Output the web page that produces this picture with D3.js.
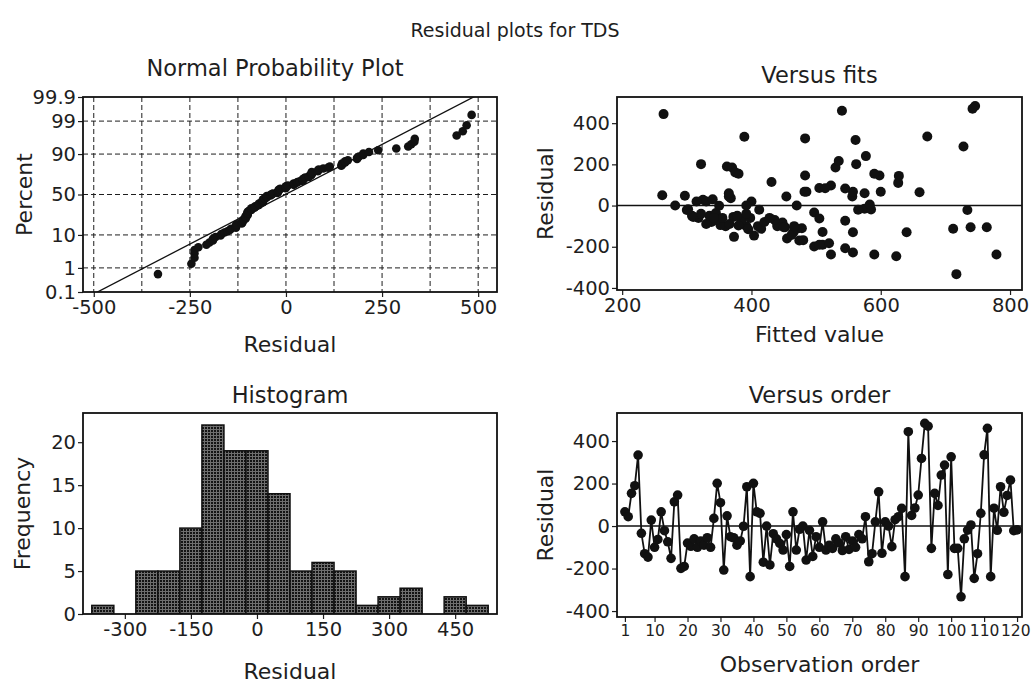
<!DOCTYPE html>
<html>
<head>
<meta charset="utf-8">
<script src="https://cdn.jsdelivr.net/npm/d3@7"></script>
<style>
  body { margin: 0; background: #fff; }
  svg { font-family: "DejaVu Sans", sans-serif; }
</style>
</head>
<body>
<svg id="chart" width="1031" height="684"></svg>
<script>
// residuals, in observation order (1..120)
const residuals = [
  67, 44, 154, 190, 334, -34, -130, -146, 28, -100,
  -63, 67, -22, -74, -152, 114, 146, -199, -190, -80,
  -95, -60, -100, -70, -90, -55, -100, 36, 201, 110,
  -207, 48, -50, -55, -90, -70, -1, 185, -238, 201,
  67, 60, -170, 0, -183, -36, -60, -82, -113, -40,
  -190, 67, -113, -15, 0, -160, -20, -143, -50, -100,
  20, -113, -90, -105, -60, -80, -115, -50, -110, -70,
  -100, -40, -60, 44, -168, -130, 20, 161, -128, 20,
  0, -97, 30, 44, 83, -238, 444, 50, 85, 146,
  318, 483, 470, -105, 154, 97, 240, 287, -228, 326,
  -105, -105, -333, -60, -19, 5, -246, -130, 60, 335,
  460, -238, 84, -20, 185, 65, 144, 216, -22, -18
];
// fitted values, same order
const fitted = [
  485, 556, 380, 362, 389, 497, 465, 404, 325, 360,
  505, 482, 300, 545, 373, 431, 483, 497, 510, 338,
  352, 318, 392, 345, 330, 310, 410, 368, 322, 627,
  545, 297, 335, 372, 440, 385, 350, 370, 523, 562,
  557, 575, 474, 282, 520, 345, 398, 448, 712, 322,
  505, 600, 415, 575, 470, 455, 565, 462, 378, 440,
  400, 470, 366, 452, 355, 420, 395, 308, 478, 436,
  466, 392, 342, 454, 480, 640, 330, 375, 510, 315,
  392, 380, 340, 365, 545, 779, 264, 262, 505, 598,
  561, 746, 742, 450, 590, 523, 577, 728, 557, 483,
  764, 739, 717, 428, 585, 583, 624, 557, 365, 672,
  540, 590, 514, 412, 530, 660, 628, 535, 734, 302
];

// histogram bins (left edges) and frequencies
const binStarts = [-375, -325, -275, -225, -175, -125, -75, -25, 25, 75, 125, 175, 225, 275, 325, 375, 425, 475];
const binCounts = [1, 0, 5, 5, 10, 22, 19, 19, 14, 5, 6, 5, 1, 2, 3, 0, 2, 1];
const binWidth = 50;

// tick labels
const probTicks = [0.1, 1, 10, 50, 90, 99, 99.9];
const probGrid = [1, 10, 50, 90, 99];
const normTicksX = [-500, -250, 0, 250, 500];
const normGridX = [-500, -375, -250, -125, 0, 125, 250, 375, 500];
const fitTicks = [200, 400, 600, 800];
const residTicks = [-400, -200, 0, 200, 400];
const histTicksX = [-300, -150, 0, 150, 300, 450];
const histTicksY = [0, 5, 10, 15, 20];
const orderTicks = [1, 10, 20, 30, 40, 50, 60, 70, 80, 90, 100, 110, 120];

// inverse normal cdf (Acklam)
function probit(p) {
  const a = [-39.69683028665376, 220.9460984245205, -275.9285104469687, 138.3577518672690, -30.66479806614716, 2.506628277459239];
  const b = [-54.47609879822406, 161.5858368580409, -155.6989798598866, 66.80131188771972, -13.28068155288572];
  const c = [-0.007784894002430293, -0.3223964580411365, -2.400758277161838, -2.549732539343734, 4.374664141464968, 2.938163982698783];
  const d = [0.007784695709041462, 0.3224671290700398, 2.445134137142996, 3.754408661907416];
  const pl = 0.02425;
  if (p < pl) {
    const q = Math.sqrt(-2 * Math.log(p));
    return (((((c[0]*q+c[1])*q+c[2])*q+c[3])*q+c[4])*q+c[5]) / ((((d[0]*q+d[1])*q+d[2])*q+d[3])*q+1);
  }
  if (p > 1 - pl) {
    const q = Math.sqrt(-2 * Math.log(1 - p));
    return -(((((c[0]*q+c[1])*q+c[2])*q+c[3])*q+c[4])*q+c[5]) / ((((d[0]*q+d[1])*q+d[2])*q+d[3])*q+1);
  }
  const q = p - 0.5, r = q * q;
  return (((((a[0]*r+a[1])*r+a[2])*r+a[3])*r+a[4])*r+a[5])*q / (((((b[0]*r+b[1])*r+b[2])*r+b[3])*r+b[4])*r+1);
}

const svg = d3.select("#chart");
const ink = "#1e1e1e";

// pattern for the histogram bars
const defs = svg.append("defs");
const pat = defs.append("pattern")
  .attr("id", "grid-fill")
  .attr("patternUnits", "userSpaceOnUse")
  .attr("width", 3).attr("height", 3);
pat.append("rect").attr("width", 3).attr("height", 3).attr("fill", "#141414");
pat.append("path").attr("d", "M0,0.5H3M0.5,0V3").attr("stroke", "#6e6e6e").attr("stroke-width", 1);

svg.append("text")
  .attr("x", 515).attr("y", 37)
  .attr("text-anchor", "middle")
  .attr("font-size", "19px")
  .attr("fill", ink)
  .text("Residual plots for TDS");

// one panel: box, axes, titles
function panel(box, x, y, opts) {
  const g = svg.append("g");
  const id = "clip-" + opts.id;
  defs.append("clipPath").attr("id", id)
    .append("rect").attr("x", box.l).attr("y", box.t)
    .attr("width", box.r - box.l).attr("height", box.b - box.t);

  const fmt = d => String(d);
  const xAxis = g.append("g")
    .attr("transform", `translate(0,${box.b})`)
    .call(d3.axisBottom(x).tickValues(opts.xTicks).tickSize(5).tickPadding(3).tickFormat(fmt));
  const yAxis = g.append("g")
    .attr("transform", `translate(${box.l},0)`)
    .call(d3.axisLeft(y).tickValues(opts.yTicks).tickSize(5).tickPadding(2).tickFormat(fmt));
  [xAxis, yAxis].forEach(ax => {
    ax.select(".domain").remove();
    ax.selectAll("line").attr("stroke", ink).attr("stroke-width", 1.2);
    ax.selectAll("text").attr("font-size", "19.5px").attr("fill", ink).attr("font-family", "DejaVu Sans");
  });
  if (opts.xTickFont) xAxis.selectAll("text").attr("font-size", opts.xTickFont);

  g.append("text")
    .attr("x", (box.l + box.r) / 2 + (opts.titleDx || 0)).attr("y", box.t - opts.titleDy)
    .attr("text-anchor", "middle").attr("font-size", "22.5px").attr("fill", ink)
    .text(opts.title);
  g.append("text")
    .attr("x", (box.l + box.r) / 2 + (opts.xLabelDx || 0)).attr("y", box.b + opts.xLabelDy)
    .attr("text-anchor", "middle").attr("font-size", "22px").attr("fill", ink)
    .text(opts.xLabel);
  g.append("text")
    .attr("transform", `translate(${opts.yLabelX},${(box.t + box.b) / 2}) rotate(-90)`)
    .attr("text-anchor", "middle").attr("font-size", "22px").attr("fill", ink)
    .text(opts.yLabel);

  const inner = g.append("g").attr("clip-path", `url(#${id})`);
  const frame = () => g.append("rect")
    .attr("x", box.l).attr("y", box.t)
    .attr("width", box.r - box.l).attr("height", box.b - box.t)
    .attr("fill", "none").attr("stroke", "#111").attr("stroke-width", 1.8);
  return { g, inner, frame, xAxis, yAxis };
}

// ---- Normal probability plot ----
{
  const box = { l: 83, r: 497, t: 97, b: 292 };
  const x = d3.scaleLinear().domain([-528, 549]).range([box.l, box.r]);
  const z = d3.scaleLinear().domain([probit(0.001), probit(0.999)]).range([box.b, box.t]);
  // percent axis placed through the probit transform
  const yP = v => z(probit(v / 100));
  yP.domain = () => [0.1, 99.9];
  yP.range = () => [box.b, box.t];
  yP.copy = () => yP;

  const p = panel(box, x, yP, {
    id: "npp", title: "Normal Probability Plot", xLabel: "Residual", yLabel: "Percent",
    xTicks: normTicksX, yTicks: probTicks,
    titleDy: 21, xLabelDy: 60, yLabelX: 32, titleDx: -15
  });

  p.inner.selectAll(".vgrid").data(normGridX).join("line")
    .attr("x1", d => x(d)).attr("x2", d => x(d))
    .attr("y1", box.t).attr("y2", box.b)
    .attr("stroke", ink).attr("stroke-width", 1).attr("stroke-dasharray", "5,3");
  p.inner.selectAll(".hgrid").data(probGrid).join("line")
    .attr("x1", box.l).attr("x2", box.r)
    .attr("y1", d => yP(d)).attr("y2", d => yP(d))
    .attr("stroke", ink).attr("stroke-width", 1).attr("stroke-dasharray", "5,3");

  const sorted = residuals.slice().sort(d3.ascending);
  const n = sorted.length;
  const mu = d3.mean(residuals), sd = d3.deviation(residuals);
  const zr = [probit(0.0005), probit(0.9995)];
  p.inner.append("line")
    .attr("x1", x(mu + sd * zr[0])).attr("y1", z(zr[0]))
    .attr("x2", x(mu + sd * zr[1])).attr("y2", z(zr[1]))
    .attr("stroke", "#111").attr("stroke-width", 1.3);

  p.inner.selectAll("circle").data(sorted).join("circle")
    .attr("cx", d => x(d))
    .attr("cy", (d, i) => z(probit((i + 1 - 0.3) / (n + 0.4))))
    .attr("r", 4.3).attr("fill", "#111");
  p.frame();
}

// ---- Versus fits ----
{
  const box = { l: 617, r: 1022, t: 97, b: 290 };
  const x = d3.scaleLinear().domain([192, 818.5]).range([box.l, box.r]);
  const y = d3.scaleLinear().domain([-410, 527]).range([box.b, box.t]);
  const p = panel(box, x, y, {
    id: "fits", title: "Versus fits", xLabel: "Fitted value", yLabel: "Residual",
    xTicks: fitTicks, yTicks: residTicks, titleDy: 14, xLabelDy: 52, yLabelX: 553
  });
  p.inner.append("line")
    .attr("x1", box.l).attr("x2", box.r).attr("y1", y(0)).attr("y2", y(0))
    .attr("stroke", "#111").attr("stroke-width", 1.5);
  p.inner.selectAll("circle").data(residuals).join("circle")
    .attr("cx", (d, i) => x(fitted[i]))
    .attr("cy", d => y(d))
    .attr("r", 5).attr("fill", "#111");
  p.frame();
}

// ---- Histogram ----
{
  const box = { l: 83, r: 497, t: 413, b: 614 };
  const x = d3.scaleLinear().domain([-395, 545]).range([box.l, box.r]);
  const y = d3.scaleLinear().domain([0, 23.4]).range([box.b, box.t]);
  const p = panel(box, x, y, {
    id: "hist", title: "Histogram", xLabel: "Residual", yLabel: "Frequency",
    xTicks: histTicksX, yTicks: histTicksY, titleDy: 10, xLabelDy: 65, yLabelX: 30
  });
  p.inner.selectAll("rect").data(binCounts).join("rect")
    .attr("x", (d, i) => x(binStarts[i]))
    .attr("width", (d, i) => x(binStarts[i] + binWidth) - x(binStarts[i]))
    .attr("y", d => y(d))
    .attr("height", d => y(0) - y(d))
    .attr("fill", "url(#grid-fill)")
    .attr("stroke", "#111").attr("stroke-width", 1.5)
    .style("display", d => d > 0 ? null : "none");
  p.frame();
}

// ---- Versus order ----
{
  const box = { l: 617, r: 1022, t: 413, b: 617 };
  const x = d3.scaleLinear().domain([-1.4, 121.5]).range([box.l, box.r]);
  const y = d3.scaleLinear().domain([-428, 532]).range([box.b, box.t]);
  const p = panel(box, x, y, {
    id: "order", title: "Versus order", xLabel: "Observation order", yLabel: "Residual",
    xTicks: orderTicks, yTicks: residTicks, titleDy: 10, xLabelDy: 55, yLabelX: 553,
    xTickFont: "15.5px"
  });
  // keep the last tick label inside the page
  p.xAxis.selectAll(".tick text")
    .filter(d => d === orderTicks[orderTicks.length - 1])
    .attr("text-anchor", "end").attr("x", 13);
  p.inner.append("line")
    .attr("x1", box.l).attr("x2", box.r).attr("y1", y(0)).attr("y2", y(0))
    .attr("stroke", "#111").attr("stroke-width", 1.5);
  const line = d3.line().x((d, i) => x(i + 1)).y(d => y(d));
  p.inner.append("path").datum(residuals)
    .attr("d", line).attr("fill", "none")
    .attr("stroke", "#111").attr("stroke-width", 1.8);
  p.inner.selectAll("circle").data(residuals).join("circle")
    .attr("cx", (d, i) => x(i + 1))
    .attr("cy", d => y(d))
    .attr("r", 4.8).attr("fill", "#111");
  p.frame();
}
</script>
</body>
</html>
